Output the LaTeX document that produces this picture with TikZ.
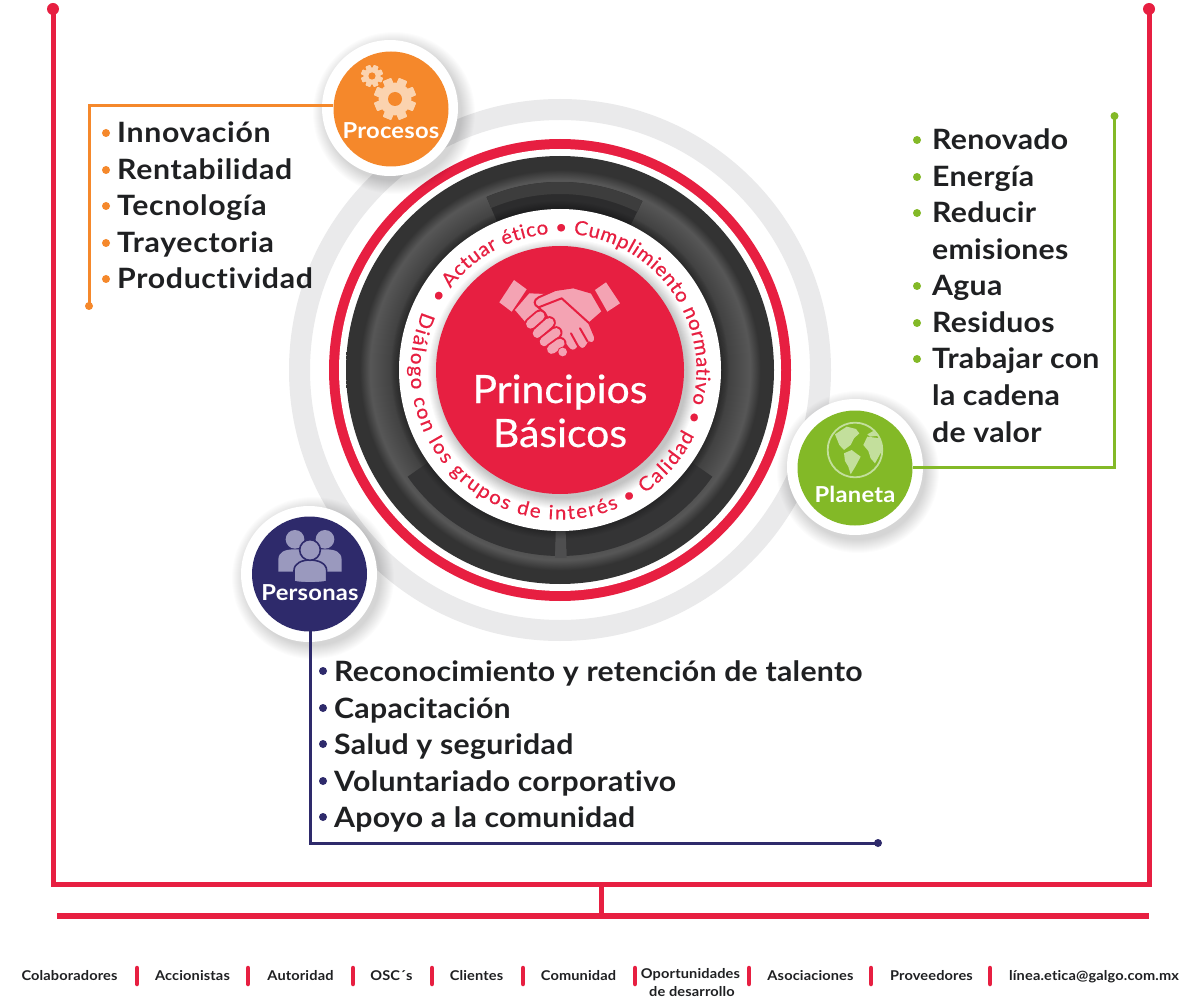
\documentclass[tikz,border=0pt]{standalone}
\usepackage{fontspec}
\setmainfont{Lato}[FakeStretch=1.08,LetterSpace=1,Ligatures=CommonOff]
\newfontfamily\midf{Lato}[FakeBold=0.5,FakeStretch=1.05,Ligatures=CommonOff]
\usetikzlibrary{decorations.text}
\definecolor{rred}{HTML}{E71F41}
\definecolor{oran}{HTML}{F5882B}
\definecolor{gren}{HTML}{83B927}
\definecolor{navy}{HTML}{2E2A6B}
\definecolor{ink}{HTML}{1F2022}
\definecolor{ringg}{HTML}{EAEAEB}
\definecolor{pinkk}{HTML}{F4A3B3}
\definecolor{gearc}{HTML}{FBD3AF}
\definecolor{earth}{HTML}{C3DF9C}
\definecolor{ppl}{HTML}{9A99BE}
\definecolor{seg}{HTML}{2C2C2D}
\definecolor{segb}{HTML}{343435}
\definecolor{gapc}{HTML}{4E4E4F}
\pgfdeclareradialshading{darkring}{\pgfpointorigin}{%
 color(0bp)=(black!85);
 color(18.8bp)=(black!78);
 color(19.8bp)=(black!74);
 color(22.2bp)=(black!66);
 color(23.4bp)=(black!80);
 color(25bp)=(black!80);
 color(50bp)=(black!80)}
\newcommand{\softshadow}[3]{%
  \foreach \i in {0,...,13}{\fill[black,opacity=.013] (#1,#2) circle[radius=#3pt+\i pt];}}
\newcommand{\ringseg}[5]{%
  \fill[#5] plot[domain=#1:#2,samples=40] ({560+#3*cos(\x)},{370-#3*sin(\x)})
     -- plot[domain=#2:#1,samples=40] ({560+#4*cos(\x)},{370-#4*sin(\x)}) -- cycle;}
\newcommand{\gearicon}[5]{%
  \foreach \a in {0,45,...,315}{\fill[gearc,rounded corners=.6pt,shift={(#1,#2)},rotate=\a+22.5]
     (-#5,-#3) rectangle (#5,#3);}
  \fill[gearc] (#1,#2) circle[radius=#3pt*.78];
  \fill[oran] (#1,#2) circle[radius=#4pt];}
\tikzset{
  x=1pt,y=-1pt,
  listitem/.style={anchor=base west,inner sep=0pt,font=\fontsize{28}{28}\selectfont\bfseries,text=ink},
  listwide/.style={listitem,font=\fontsize{28}{28}\selectfont\bfseries\addfontfeature{LetterSpace=2.4}},
  foot/.style={anchor=base,inner sep=0pt,font=\fontsize{13.5}{13.5}\selectfont\bfseries,text=ink},
  footbar/.style={rred,line width=4.5pt,line cap=round},
  badgetxt/.style={inner sep=0pt,anchor=base,font=\fontsize{22}{22}\selectfont\bfseries,text=white},
  coretxt/.style={inner sep=0pt,anchor=base,font=\midf\fontsize{39}{39}\selectfont,text=white},
  frameline/.style={rred,line width=5pt},
  enddot/.style={circle,inner sep=0pt,minimum size=#1,fill},
  badge/.style={circle,inner sep=0pt,minimum size=115pt,fill=#1},
  halo/.style={circle,inner sep=0pt,minimum size=136pt,fill=white},
  arcpath/.style={decorate,decoration={text along path,text align={fit to path},
     text={|\color{rred}\midf\fontsize{19.5}{19.5}\selectfont|#1}}}
}
\begin{document}
\begin{tikzpicture}
\useasboundingbox (0,0) rectangle (1200,1000);
\fill[white] (0,0) rectangle (1200,1000);

% outer frame
\node[enddot=12pt,fill=rred] (fl) at (53,9) {};
\node[enddot=12pt,fill=rred] (fr) at (1149,9) {};
\coordinate (fbl) at (53,884);
\coordinate (fbr) at (1149,884);
\coordinate (fmid) at (601,884);
\coordinate (bl) at (57,915.5);
\coordinate (br) at (1149,915.5);
\coordinate (bmid) at (601,915.5);
\draw[frameline,line join=miter] (fl.center) -- (fbl) -- (fbr) -- (fr.center);
\draw[frameline,line width=6pt] (bl) -- (br);
\draw[frameline] (fmid) -- (bmid);

% rings
\fill[ringg,even odd rule] (560,370) circle[radius=271pt] (560,370) circle[radius=250pt];
\fill[rred] (560,370) circle[radius=231pt];
\fill[white] (560,370) circle[radius=221pt];
\shade[shading=darkring] (560,370) circle[radius=214pt];
\ringseg{113}{64}{161}{188}{seg}
\ringseg{113}{64}{176}{188}{black!76}
\ringseg{215}{268.5}{161}{186}{segb}
\ringseg{272}{325}{161}{186}{segb}
\ringseg{268.5}{272}{161}{188}{gapc}
\foreach \i in {0,...,7}{\fill[black,opacity=.035] (560,370) circle[radius=161pt+\i pt*1.1];}
\fill[white] (560,370) circle[radius=161pt];
\begin{scope}
\clip (560,370) circle[radius=161pt];
\foreach \i in {0,...,11}{\fill[black,opacity=.02] (563,374) circle[radius=124pt+\i pt];}
\end{scope}
\node[circle,inner sep=0pt,minimum size=248pt,fill=rred] (core) at (560,370) {};

% ring text
\path[arcpath={• Actuar ético • Cumplimiento normativo •}]
  plot[domain=151:-22,samples=90] ({560+136.5*cos(\x)},{370-136.5*sin(\x)});
\path[arcpath={Diálogo con los grupos de interés • Calidad}]
  plot[domain=157:334,samples=90] ({560+149.5*cos(\x)},{370-149.5*sin(\x)});

% handshake
\begin{scope}[shift={(490,270)},scale=.3333]
\fill[pinkk] (72,30) -- (110,58) -- (65,125) -- (28,97) -- cycle;
\fill[pinkk] (348,37) -- (390,100) -- (352,125) -- (315,60) -- cycle;
\fill[pinkk] (118,70) -- (165,72) -- (175,120) -- (105,155) -- (75,120) -- cycle;
\draw[rred,line width=2pt,fill=pinkk,line join=round]
  (145,112) .. controls (130,105) and (130,90) .. (146,82) -- (196,60) -- (250,52) -- (305,68) -- (338,125) -- (298,160)
  -- (315,200) .. controls (320,215) and (305,225) .. (297,217)
  -- (292,225) .. controls (285,240) and (272,240) .. (266,230)
  -- (262,235) .. controls (255,245) and (240,245) .. (233,232) -- (200,190) -- (165,130) -- cycle;
\draw[rred,line width=2pt,line cap=round] (270,175) -- (293,215);
\draw[rred,line width=2pt,line cap=round] (243,190) -- (265,230);
\draw[rred,line width=2pt,line cap=round,line join=round] (146,112) -- (215,85) -- (298,160);
\foreach \a/\b/\c/\d in {122/162/150/138, 142/190/178/158, 163/215/198/188, 185/238/210/220}{
  \draw[rred,line width=13pt,line cap=round] (\a,\b) -- (\c,\d);
  \draw[pinkk,line width=9.2pt,line cap=round] (\a,\b) -- (\c,\d);
}
\fill[rred] (218,246) circle[radius=16];
\fill[pinkk] (218,246) circle[radius=13];
\end{scope}

\node[coretxt] (pa) at (560,403) {Principios};
\node[coretxt] (pb) at (560,447) {Básicos};

% Procesos
\softshadow{394}{113}{68}
\node[halo] (prh) at (390,108) {};
\node[badge=oran] (pr) at (391,109) {};
\gearicon{395}{99}{21}{7}{4.5}
\gearicon{372}{76}{11}{3.6}{2.5}
\node[badgetxt] (prt) at (391,138.5) {Procesos};
\coordinate (pr1) at (333,105.5);
\coordinate (pr2) at (89,105.5);
\node[enddot=8pt,fill=oran] (pr3) at (89,306) {};
\draw[oran,line width=3pt] (pr1) -- (pr2) -- (pr3.center);
\foreach \n/\t/\y in {a/Innovación/143,b/Rentabilidad/180,c/Tecnología/216,d/Trayectoria/253,e/Productividad/289}{
  \node[listwide] (pr\n) at (117,\y) {\t};
  \fill[oran] (106,\y-10) circle[radius=4pt];
}

% Planeta
\softshadow{858}{472}{68}
\node[halo] (plh) at (855,467) {};
\node[badge=gren] (pl) at (855,468) {};
\begin{scope}[shift={(780,395)},scale=.3333]
\draw[earth,line width=1.8pt] (225,165) circle[radius=82];
\fill[earth] (165,118) -- (200,95) -- (228,102) -- (238,115) -- (222,130) -- (212,150) -- (192,165) -- (178,150) -- cycle;
\fill[earth] (192,175) -- (215,165) -- (242,185) -- (226,215) -- (212,238) -- (205,215) -- (195,198) -- cycle;
\fill[earth] (250,150) -- (262,125) -- (300,130) -- (307,165) -- (285,205) -- (272,190) -- (265,168) -- cycle;
\fill[earth] (262,118) -- (280,108) -- (295,122) -- (270,125) -- cycle;
\end{scope}
\node[badgetxt] (plt) at (855,502.5) {Planeta};
\coordinate (pl1) at (913,467);
\coordinate (pl2) at (1114.5,467);
\node[enddot=8pt,fill=gren] (pl3) at (1114.5,116) {};
\draw[gren,line width=3pt] (pl1) -- (pl2) -- (pl3.center);
\foreach \n/\t/\y/\b in {a/Renovado/150/1,b/Energía/187/1,c/Reducir/223/1,d/emisiones/260/0,e/Agua/296/1,f/Residuos/333/1,g/Trabajar con/369/1,h/la cadena/406/0,i/de valor/442/0}{
  \node[listitem] (pl\n) at (932,\y) {\t};
  \ifnum\b=1 \fill[gren] (917,\y-10) circle[radius=4pt];\fi
}

% Personas
\softshadow{313}{578}{68}
\node[halo] (peh) at (309,574) {};
\node[badge=navy] (pe) at (309.5,574) {};
\begin{scope}[shift={(230,500)},scale=.3333]
\fill[ppl] (195,118) circle[radius=28];
\fill[ppl] (285,118) circle[radius=28];
\fill[ppl] (145,215) -- (145,180) .. controls (145,155) and (165,148) .. (195,148) .. controls (225,148) and (245,155) .. (245,180) -- (245,215) -- cycle;
\fill[ppl] (335,215) -- (335,180) .. controls (335,155) and (315,148) .. (285,148) .. controls (255,148) and (235,155) .. (235,180) -- (235,215) -- cycle;
\draw[navy,line width=1.6pt,fill=ppl] (192,245) -- (192,212) .. controls (192,190) and (215,180) .. (240,180) .. controls (265,180) and (290,190) .. (290,212) -- (290,245) .. controls (260,250) and (220,250) .. (192,245) -- cycle;
\draw[navy,line width=1.6pt,fill=ppl] (240,150) circle[radius=31];
\end{scope}
\node[badgetxt] (pet) at (310,600.5) {Personas};
\coordinate (pe1) at (310,631);
\coordinate (pe2) at (310,843);
\node[enddot=8pt,fill=navy] (pe3) at (878,843) {};
\draw[navy,line width=3pt] (pe1) -- (pe2) -- (pe3.center);
\foreach \n/\t/\y in {a/Reconocimiento y retención de talento/681,b/Capacitación/718,c/Salud y seguridad/754,d/Voluntariado corporativo/791,e/Apoyo a la comunidad/827}{
  \node[listitem] (pe\n) at (334,\y) {\t};
  \fill[navy] (323,\y-10) circle[radius=4pt];
}

% footer
\foreach \n/\t/\x in {a/Colaboradores/69.5,b/Accionistas/192.5,c/Autoridad/300.5,d/OSC´s/391.5,e/Clientes/476.5,f/Comunidad/578.5,h/Asociaciones/810.5,i/Proveedores/931.5,j/línea.etica@galgo.com.mx/1094}{
  \node[foot] (ft\n) at (\x,980) {\t};
}
\node[foot] (ftg) at (690.5,978) {Oportunidades};
\node[foot] (ftk) at (692,996) {de desarrollo};
\foreach \x in {137,248,353,432,523,635,749,871,990}{
  \draw[footbar] (\x,968) -- (\x,984);
}
\end{tikzpicture}
\end{document}
